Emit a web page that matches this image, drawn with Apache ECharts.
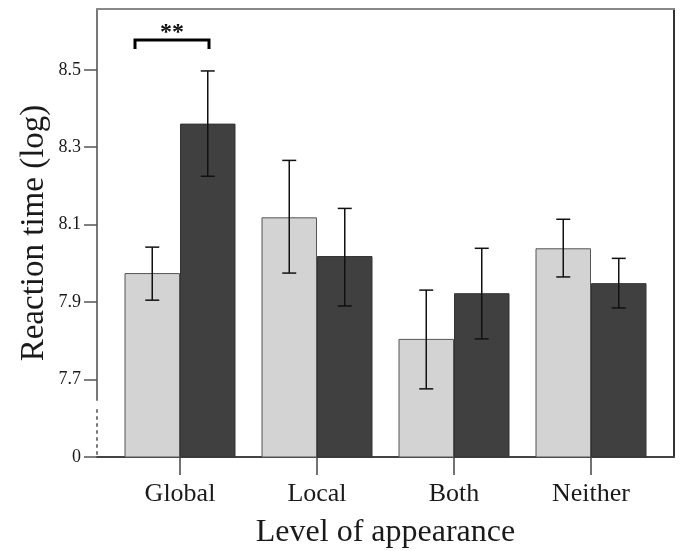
<!DOCTYPE html>
<html>
<head>
<meta charset="utf-8">
<script src="https://cdn.jsdelivr.net/npm/echarts@6/dist/echarts.min.js"></script>
<style>html,body{margin:0;padding:0;background:#fff;}#c{width:680px;height:551px;}</style>
</head>
<body>
<div id="c"></div>
<script>
const categories = ['Global', 'Local', 'Both', 'Neither'];
// light grey condition
const lightMean = [7.975, 8.119, 7.805, 8.039];
const lightLow  = [7.905, 7.975, 7.676, 7.965];
const lightHigh = [8.042, 8.266, 7.931, 8.114];
// dark grey condition
const darkMean = [8.361, 8.019, 7.923, 7.949];
const darkLow  = [8.225, 7.890, 7.805, 7.885];
const darkHigh = [8.497, 8.142, 8.039, 8.013];
// y ticks (bottom tick is the axis break shown as "0")
const yTickValues = [7.5, 7.7, 7.9, 8.1, 8.3, 8.5];
const yTickLabels = ['0', '7.7', '7.9', '8.1', '8.3', '8.5'];
const yMin = 7.5, yMax = 8.657;
// significance annotation
const sigCategory = 0;
const sigLevel = 8.577;
const sigText = '**';

const FONT = '"Liberation Serif", "Times New Roman", serif';
const BAR_W = 55.5;

const chart = echarts.init(document.getElementById('c'), null, {renderer: 'canvas'});

function errItem(side) {
  return function (params, api) {
    const i = api.value(0);
    const lo = api.coord([i, api.value(1)]);
    const hi = api.coord([i, api.value(2)]);
    const x = lo[0] + side * BAR_W / 2;
    const cap = 7;
    const st = {stroke: '#111', lineWidth: 1.5};
    return {
      type: 'group',
      children: [
        {type: 'line', shape: {x1: x, y1: hi[1], x2: x, y2: lo[1]}, style: st},
        {type: 'line', shape: {x1: x - cap, y1: hi[1], x2: x + cap, y2: hi[1]}, style: st},
        {type: 'line', shape: {x1: x - cap, y1: lo[1], x2: x + cap, y2: lo[1]}, style: st}
      ]
    };
  };
}

const hiddenValueAxis = (grid) => ({type: 'value', gridIndex: grid, min: 0, max: 1, show: false});
const lineOnlyAxis = (grid, pos, color, width, type) => ({
  type: 'value', gridIndex: grid, position: pos, min: 0, max: 1,
  axisLine: {show: true, onZero: false, lineStyle: {color: color, width: width, type: type || 'solid'}},
  axisTick: {show: false}, axisLabel: {show: false}, splitLine: {show: false}
});

const option = {
  backgroundColor: '#fff',
  animation: false,
  grid: [
    {left: 111.5, right: 20.5, top: 9, bottom: 94, outerBoundsMode: 'none', containLabel: false},
    {left: 97, right: 6, top: 9, bottom: 94, outerBoundsMode: 'none', containLabel: false},
    {left: 97, right: 6, top: 9, bottom: 151, outerBoundsMode: 'none', containLabel: false},
    {left: 97, right: 6, top: 408, bottom: 97, outerBoundsMode: 'none', containLabel: false}
  ],
  xAxis: [
    {
      type: 'category', gridIndex: 0, data: categories,
      axisLine: {show: false},
      axisTick: {show: true, alignWithLabel: true, length: 18, lineStyle: {color: '#444', width: 1.5}},
      axisLabel: {fontFamily: FONT, fontSize: 26, color: '#1a1a1a', margin: 24},
      name: 'Level of appearance', nameLocation: 'middle', nameGap: 60,
      nameTextStyle: {fontFamily: FONT, fontSize: 32, color: '#1a1a1a'}
    },
    lineOnlyAxis(1, 'bottom', '#444', 2),
    lineOnlyAxis(1, 'top', '#888', 2),
    hiddenValueAxis(2),
    hiddenValueAxis(3)
  ],
  yAxis: [
    {type: 'value', gridIndex: 0, min: yMin, max: yMax, show: false},
    lineOnlyAxis(1, 'right', '#333', 2),
    lineOnlyAxis(2, 'left', '#777', 2),
    lineOnlyAxis(3, 'left', '#777', 2, [2, 5]),
    {
      type: 'value', gridIndex: 1, min: yMin, max: yMax, position: 'left',
      axisLine: {show: false},
      axisTick: {show: true, inside: false, length: 13, customValues: yTickValues, lineStyle: {color: '#555', width: 1.5}},
      axisLabel: {
        customValues: yTickValues, fontFamily: FONT, fontSize: 18, color: '#1a1a1a', margin: 16,
        formatter: function (v) {
          const k = yTickValues.findIndex(t => Math.abs(t - v) < 1e-6);
          return k >= 0 ? yTickLabels[k] : '';
        }
      },
      splitLine: {show: false},
      name: 'Reaction time (log)', nameLocation: 'middle', nameGap: 46, nameMoveOverlap: false,
      nameTextStyle: {fontFamily: FONT, fontSize: 33, color: '#1a1a1a'}
    }
  ],
  series: [
    {
      type: 'bar', xAxisIndex: 0, yAxisIndex: 0, data: lightMean,
      barWidth: BAR_W, barGap: '0%',
      itemStyle: {color: '#d3d3d3', borderColor: '#555', borderWidth: 1}
    },
    {
      type: 'bar', xAxisIndex: 0, yAxisIndex: 0, data: darkMean,
      barWidth: BAR_W, barGap: '0%',
      itemStyle: {color: '#404040', borderColor: '#333', borderWidth: 1}
    },
    {
      type: 'custom', xAxisIndex: 0, yAxisIndex: 0, z: 5,
      data: categories.map((c, i) => [i, lightLow[i], lightHigh[i]]),
      renderItem: errItem(-1)
    },
    {
      type: 'custom', xAxisIndex: 0, yAxisIndex: 0, z: 5,
      data: categories.map((c, i) => [i, darkLow[i], darkHigh[i]]),
      renderItem: errItem(1)
    },
    {
      type: 'custom', xAxisIndex: 0, yAxisIndex: 0, z: 6, clip: false,
      data: [[sigCategory, sigLevel]],
      renderItem: function (params, api) {
        const c = api.coord([api.value(0), api.value(1)]);
        const l = c[0] - 45, r = c[0] + 29, y = c[1], leg = 9;
        return {
          type: 'group',
          children: [
            {type: 'polyline', shape: {points: [[l, y + leg], [l, y], [r, y], [r, y + leg]]},
             style: {stroke: '#000', lineWidth: 3, fill: null}},
            {type: 'text', x: (l + r) / 2, y: y + 5,
             style: {text: sigText, font: 'bold 24px ' + FONT, fill: '#111', align: 'center', verticalAlign: 'bottom'}}
          ]
        };
      }
    }
  ]
};
chart.setOption(option);
</script>
</body>
</html>
